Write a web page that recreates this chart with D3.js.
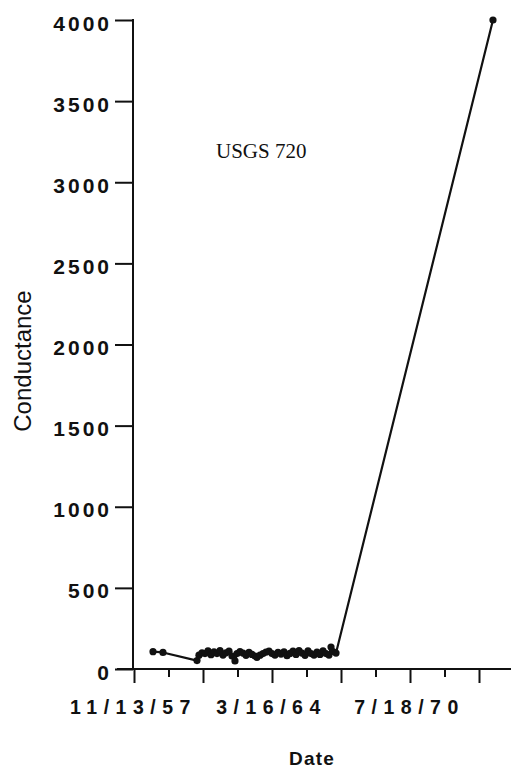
<!DOCTYPE html>
<html>
<head>
<meta charset="utf-8">
<script src="https://cdn.jsdelivr.net/npm/d3@7"></script>
<style>
  html, body { margin: 0; padding: 0; background: #fff; }
  svg { display: block; }
</style>
</head>
<body>
<svg id="chart" width="511" height="769"></svg>
<script>
// Specific conductance samples for well USGS 720
const sampleDates = [
  "1958-09-28", "1959-03-14", "1960-10-05", "1960-11-07", "1960-12-28",
  "1961-02-16", "1961-04-07", "1961-05-28", "1961-07-17", "1961-09-05",
  "1961-10-26", "1961-12-15", "1962-02-03", "1962-03-26", "1962-05-15",
  "1962-07-04", "1962-08-07", "1962-09-26", "1962-11-15", "1963-01-05",
  "1963-02-24", "1963-04-15", "1963-06-05", "1963-07-08", "1963-08-28",
  "1963-10-17", "1963-12-06", "1964-01-26", "1964-03-16", "1964-05-05",
  "1964-06-25", "1964-08-14", "1964-10-03", "1964-11-23", "1965-01-12",
  "1965-03-03", "1965-04-23", "1965-06-12", "1965-08-01", "1965-09-21",
  "1965-11-10", "1965-12-30", "1966-02-19", "1966-04-10", "1966-05-30",
  "1966-07-20", "1966-09-08", "1966-10-28", "1966-12-01", "1967-01-03",
  "1967-02-23", "1974-05-10"
];
const conductance = [
  107, 102, 52, 85, 100,
  95, 112, 88, 106, 95,
  114, 86, 100, 110, 80,
  50, 95, 107, 98, 84,
  102, 90, 80, 72, 85,
  95, 104, 110, 95, 86,
  102, 92, 106, 82, 96,
  110, 90, 114, 98, 84,
  112, 95, 86, 104, 90,
  112, 95, 86, 135, 108,
  98, 4000
];

const xTickLabels = ["11/13/57", "3/16/64", "7/18/70"];
const yTickValues = [0, 500, 1000, 1500, 2000, 2500, 3000, 3500, 4000];
const stationName = "USGS 720";
const xTitle = "Date";
const yTitle = "Conductance";

const svg = d3.select("#chart");
svg.append("rect").attr("width", 511).attr("height", 769).attr("fill", "#fff");

const parseIso = d3.timeParse("%Y-%m-%d");
// two-digit years here are all 19xx
const parseLabel = s => {
  const [m, d, y] = s.split("/").map(Number);
  return new Date(1900 + y, m - 1, d);
};

const data = sampleDates.map((s, i) => ({ date: parseIso(s), value: conductance[i] }));
const labelDates = xTickLabels.map(parseLabel);

const x = d3.scaleTime()
  .domain([labelDates[0], labelDates[labelDates.length - 1]])
  .range([134, 410]);
const y = d3.scaleLinear().domain([0, 4000]).range([669, 20]);

// quarter steps between labelled dates; two more steps past the last one
const step = (labelDates[1] - labelDates[0]) / 4;
const allTicks = d3.range(0, 11).map(k => new Date(+labelDates[0] + k * step));
const majorTicks = allTicks.filter((d, k) => k % 2 === 0);
const minorTicks = allTicks.filter((d, k) => k % 2 === 1);
const labelFor = d => {
  const i = labelDates.findIndex(l => Math.abs(l - d) < 864e5);
  return i >= 0 ? xTickLabels[i] : "";
};

const ink = "#111";
const tickFont = "'Liberation Sans', Arial, sans-serif";

// x axis
const gx = svg.append("g").attr("transform", "translate(0,669)");
gx.append("line").attr("x1", 117).attr("x2", 511).attr("y1", 0).attr("y2", 0)
  .attr("stroke", ink).attr("stroke-width", 2);
gx.append("g")
  .call(d3.axisBottom(x).tickValues(minorTicks).tickSize(8).tickFormat(""))
  .call(g => g.select(".domain").remove());
gx.append("g")
  .call(d3.axisBottom(x).tickValues(majorTicks).tickSize(14).tickPadding(17).tickFormat(labelFor))
  .call(g => g.select(".domain").remove());
gx.selectAll(".tick line").attr("stroke", ink).attr("stroke-width", 2);
gx.selectAll(".tick text")
  .attr("fill", ink)
  .style("font-family", tickFont)
  .style("font-weight", "bold")
  .style("font-size", "19.5px")
  .style("letter-spacing", "6.5px")
  .attr("dx", "-1px");

// y axis
const gy = svg.append("g").attr("transform", "translate(133,0)");
gy.call(d3.axisLeft(y).tickValues(yTickValues).tickSize(18).tickPadding(6).tickFormat(d3.format("d")))
  .call(g => g.select(".domain").remove());
gy.append("line").attr("x1", 0).attr("x2", 0).attr("y1", y(4000) - 1).attr("y2", y(0))
  .attr("stroke", ink).attr("stroke-width", 2);
gy.selectAll(".tick line").attr("stroke", ink).attr("stroke-width", 2);
gy.selectAll(".tick text")
  .attr("fill", ink)
  .style("font-family", tickFont)
  .style("font-weight", "bold")
  .style("font-size", "21px")
  .style("letter-spacing", "3px")
  .attr("dx", "3px")
  .attr("dy", "0.48em");

// series
const line = d3.line()
  .x(d => x(d.date))
  .y(d => y(d.value));
svg.append("path").datum(data)
  .attr("d", line)
  .attr("fill", "none")
  .attr("stroke", ink)
  .attr("stroke-width", 2.2)
  .attr("stroke-linejoin", "round");
svg.append("g").selectAll("circle").data(data).join("circle")
  .attr("cx", d => x(d.date))
  .attr("cy", d => y(d.value))
  .attr("r", 3.6)
  .attr("fill", ink);

// station name
svg.append("text")
  .attr("x", 216).attr("y", 158)
  .attr("fill", ink)
  .style("font-family", "'Liberation Serif', 'Times New Roman', serif")
  .style("font-size", "21px")
  .text(stationName);

// axis titles
svg.append("text")
  .attr("x", 312).attr("y", 765)
  .attr("text-anchor", "middle")
  .attr("fill", ink)
  .style("font-family", tickFont)
  .style("font-weight", "bold")
  .style("font-size", "19px")
  .style("letter-spacing", "1.2px")
  .text(xTitle);

svg.append("text")
  .attr("transform", "translate(31,361) rotate(-90)")
  .attr("text-anchor", "middle")
  .attr("fill", ink)
  .style("font-family", tickFont)
  .style("font-size", "24px")
  .text(yTitle);
</script>
</body>
</html>
